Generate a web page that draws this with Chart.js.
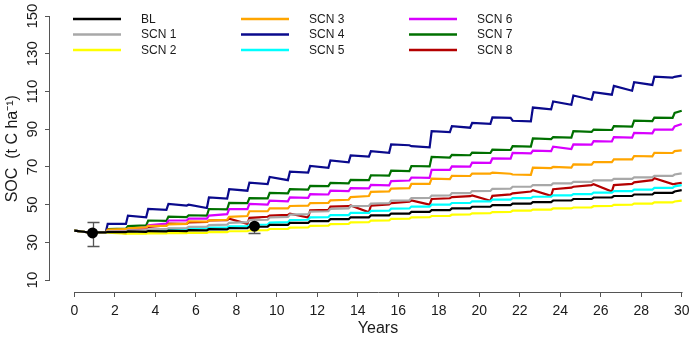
<!DOCTYPE html>
<html><head><meta charset="utf-8">
<script src="https://cdn.jsdelivr.net/npm/chart.js@4.4.1/dist/chart.umd.min.js"></script>
<style>html,body{margin:0;padding:0;background:#fff;overflow:hidden;}#wrap{width:692px;height:338px;position:relative;}</style>
</head><body><div id="wrap"><canvas id="c" width="692" height="338"></canvas></div>
<script>
// ---------- data ----------
const years = [0,0.55,0.65,1.55,1.65,2.55,2.65,3.55,3.65,4.55,4.65,5.55,5.65,6.55,6.65,7.55,7.65,8.55,8.65,9.55,9.65,10.55,10.65,11.55,11.65,12.55,12.65,13.55,13.65,14.55,14.65,15.55,15.65,16.55,16.65,17.55,17.65,18.55,18.65,19.55,19.65,20.55,20.65,21.55,21.65,22.55,22.65,23.55,23.65,24.55,24.65,25.55,25.65,26.55,26.65,27.55,27.65,28.55,28.65,29.55,29.65,30];
const seriesNames = ['BL','SCN 1','SCN 2','SCN 3','SCN 4','SCN 5','SCN 6','SCN 7','SCN 8'];
const seriesColors = ['#000000','#a8a8a8','#ffff00','#ffa500','#0a0a8c','#00ffff','#d800ff','#007000','#b40000'];
const BL   = [36.2, 35.5,35.3, 35.3,35.5, 35.4,35.8, 35.6,36.0, 35.8,36.2, 36.0,36.5, 36.4,37.0, 36.9,37.6, 37.5,38.3, 38.4,39.3, 39.3,40.3, 40.3,41.3, 41.3,42.3, 42.3,43.3, 43.3,44.3, 44.3,45.3, 45.3,46.2, 46.2,47.1, 47.1,48.0, 48.0,48.9, 48.9,49.8, 49.8,50.6, 50.6,51.4, 51.4,52.2, 52.2,53.0, 53.0,53.8, 53.8,54.6, 54.6,55.4, 55.4,56.3, 56.3,57.0, 57.7];
const SCN1 = [36.2, 35.5,35.3, 35.3,35.8, 36.0,36.4, 36.5,36.9, 37.0,37.5, 37.6,38.2, 38.4,39.2, 39.4,40.4, 40.7,41.8, 42.0,43.2, 43.5,44.7, 45.0,46.3, 46.5,47.8, 48.0,49.2, 49.4,50.6, 50.8,52.1, 52.3,53.5, 53.6,54.8, 54.9,56.1, 56.1,57.2, 57.3,58.4, 58.5,59.5, 59.5,60.4, 60.4,61.3, 61.3,62.1, 62.1,62.9, 62.9,63.7, 63.7,64.5, 64.5,65.3, 65.3,66.0, 66.6];
const SCN2 = [36.2, 35.5,35.3, 35.3,35.1, 34.6,34.8, 34.7,34.9, 34.8,35.0, 34.9,35.2, 35.1,35.5, 35.4,35.9, 35.9,36.4, 36.5,37.1, 37.2,37.8, 38.0,38.8, 38.9,39.7, 39.8,40.6, 40.7,41.5, 41.7,42.5, 42.6,43.3, 43.4,44.0, 44.1,44.7, 44.8,45.4, 45.5,46.1, 46.2,46.8, 46.8,47.4, 47.4,48.0, 48.0,48.5, 48.6,49.2, 49.3,49.9, 50.0,50.6, 50.6,51.2, 51.2,51.7, 52.1];
const SCN3 = [36.2, 35.5,35.3, 35.3,36.8, 37.0,37.5, 38.0,38.8, 38.8,39.6, 39.8,41.2, 41.0,41.6, 42.0,43.5, 44.0,46.5, 46.5,48.0, 48.0,49.3, 49.5,50.8, 51.0,52.3, 52.6,54.0, 54.6,56.8, 57.0,58.5, 58.8,61.0, 61.0,63.8, 63.6,65.3, 65.2,66.5, 66.5,67.0, 66.4,66.0, 65.8,69.6, 69.4,70.0, 69.6,71.4, 71.2,72.6, 72.6,74.0, 74.0,75.8, 75.6,77.5, 77.4,78.4, 78.8];
const SCN4 = [36.2, 35.5,35.3, 35.3,39.8, 39.8,44.2, 43.3,47.7, 47.2,50.4, 49.5,50.0, 48.2,53.8, 53.2,58.2, 57.4,61.7, 60.9,64.7, 63.0,67.5, 67.0,70.5, 69.5,73.5, 72.5,76.1, 75.5,78.4, 77.5,82.0, 81.5,81.0, 80.4,89.0, 88.5,91.6, 90.8,93.3, 92.8,96.3, 96.0,94.5, 94.2,101.5, 100.5,104.7, 103.0,107.9, 105.6,109.6, 108.3,113.0, 110.4,114.9, 113.5,117.9, 117.4,117.8, 118.4];
const SCN5 = [36.2, 35.5,35.3, 35.3,35.4, 35.4,35.8, 35.8,36.3, 36.4,37.2, 37.2,37.6, 37.5,37.9, 37.9,38.5, 38.6,39.3, 39.5,40.5, 40.7,41.8, 42.0,43.3, 43.4,44.5, 44.5,45.6, 45.6,46.7, 46.8,47.9, 48.0,49.0, 49.0,50.0, 50.0,50.9, 50.9,51.8, 51.8,52.7, 52.7,53.5, 53.5,54.2, 54.2,54.9, 54.9,55.6, 55.6,56.4, 56.4,57.2, 57.2,58.0, 58.0,58.9, 58.9,59.7, 60.4];
const SCN6 = [36.2, 35.5,35.3, 35.3,35.8, 36.3,37.2, 37.8,39.0, 40.0,41.6, 41.6,42.6, 42.6,44.2, 45.0,47.7, 47.6,50.4, 50.0,52.1, 51.8,53.9, 53.6,55.6, 55.4,57.4, 57.2,58.8, 58.6,60.5, 60.2,62.5, 62.8,64.4, 64.2,68.5, 68.5,70.3, 70.2,72.3, 72.2,74.5, 74.4,77.5, 77.2,78.6, 78.4,80.8, 79.5,82.0, 81.8,83.7, 83.5,85.8, 85.5,88.1, 87.8,89.8, 89.8,91.5, 92.8];
const SCN7 = [36.2, 35.5,35.3, 35.3,37.0, 37.3,38.6, 39.0,41.6, 41.4,43.7, 43.4,44.4, 44.2,47.7, 47.5,51.0, 50.8,53.5, 53.3,56.3, 56.0,58.2, 58.0,60.0, 59.8,61.5, 61.3,63.2, 63.0,65.6, 65.4,68.0, 67.8,70.5, 70.3,75.3, 75.0,76.4, 76.2,77.6, 77.4,79.2, 79.0,81.0, 80.8,85.1, 84.8,85.8, 85.6,89.0, 88.6,89.8, 89.6,91.6, 91.4,94.6, 94.3,96.2, 96.0,98.6, 99.8];
const SCN8 = [36.2, 35.5,35.3, 35.3,35.8, 34.8,36.6, 37.6,38.2, 39.0,40.0, 39.8,40.6, 40.8,41.6, 41.8,42.6, 39.8,43.0, 43.6,44.2, 44.6,45.2, 43.2,47.0, 47.3,49.0, 49.2,49.6, 46.0,49.5, 50.2,50.8, 51.6,52.2, 50.0,53.0, 53.4,54.0, 54.5,54.9, 52.1,54.7, 55.5,56.0, 57.0,57.7, 54.7,58.2, 59.0,59.5, 60.4,60.9, 57.0,60.4, 61.0,61.8, 63.0,64.0, 60.9,61.0, 61.6];
const obsYears = [0.9, 8.9];
const obsMean  = [35.0, 38.6];
const obsLow   = [28.3, 34.9];
const obsHigh  = [41.0, 42.3];
const xTicks = [0,2,4,6,8,10,12,14,16,18,20,22,24,26,28,30];
const yTicks = [10,30,50,70,90,110,130,150];
const xTitle = 'Years';
const yTitle = 'SOC  (t C ha\u207B\u00B9)';

const seriesValues = [BL,SCN1,SCN2,SCN3,SCN4,SCN5,SCN6,SCN7,SCN8];

// ---------- chart ----------
const AXIS = '#555555';
const TXT = '#1a1a1a';

const lineSets = seriesNames.map((name,i)=>({
  type:'line', label:name,
  data: years.map((x,k)=>({x:x, y:seriesValues[i][k]})),
  borderColor: seriesColors[i], backgroundColor: seriesColors[i],
  borderWidth: 2.2, pointRadius: 0, tension: 0, order: 1
}));
const pointSet = {
  type:'scatter', label:'Observed',
  data: obsYears.map((x,i)=>({x:x, y:obsMean[i]})),
  backgroundColor:'#000', borderColor:'#000', pointRadius:5.5, pointBorderWidth:0, showLine:false, order:0
};

const overlay = {
  id:'overlay',
  afterLayout(chart){
    // extend the x scale past the canvas edge like R's 4% axis expansion
    const xs = chart.scales.x;
    xs.right = xs.left + 656;
    xs.width = xs.right - xs.left;
    xs.configure();
  },
  beforeDatasetsDraw(chart){
    const {ctx, scales:{x,y}} = chart;
    ctx.save();
    ctx.strokeStyle = AXIS; ctx.lineWidth = 1.3;
    for(let i=0;i<obsYears.length;i++){
      const px = Math.round(x.getPixelForValue(obsYears[i]))+0.5;
      const lo = Math.round(y.getPixelForValue(obsLow[i]))+0.5;
      const hi = Math.round(y.getPixelForValue(obsHigh[i]))+0.5;
      ctx.beginPath();
      ctx.moveTo(px,lo); ctx.lineTo(px,hi);
      ctx.moveTo(px-6,lo); ctx.lineTo(px+6,lo);
      ctx.moveTo(px-6,hi); ctx.lineTo(px+6,hi);
      ctx.stroke();
    }
    ctx.restore();
  },
  afterDraw(chart){
    const {ctx, scales:{x,y}} = chart;
    ctx.save();
    ctx.strokeStyle = AXIS; ctx.lineWidth = 1;
    ctx.beginPath();
    const yb = Math.round(y.bottom)+0.5;
    ctx.moveTo(Math.round(x.getPixelForValue(xTicks[0]))+0.5, yb);
    ctx.lineTo(Math.round(x.getPixelForValue(xTicks[xTicks.length-1]))+0.5, yb);
    const xl = Math.round(x.left)-0.5;
    ctx.moveTo(xl, Math.round(y.getPixelForValue(yTicks[0]))+0.5);
    ctx.lineTo(xl, Math.round(y.getPixelForValue(yTicks[yTicks.length-1]))+0.5);
    ctx.stroke();
    // legend (3 columns x 3 rows)
    const colX = [73, 241, 409];
    const rowY = [19, 34.5, 50];
    ctx.font = '12px "Liberation Sans", Arial, sans-serif';
    ctx.fillStyle = TXT; ctx.textBaseline = 'middle'; ctx.textAlign = 'left';
    seriesNames.forEach((name,i)=>{
      const c = Math.floor(i/3), r = i%3;
      ctx.strokeStyle = seriesColors[i]; ctx.lineWidth = 2.5;
      ctx.beginPath(); ctx.moveTo(colX[c], rowY[r]); ctx.lineTo(colX[c]+48, rowY[r]); ctx.stroke();
      ctx.fillText(name, colX[c]+68, rowY[r]+0.5);
    });
    ctx.restore();
  }
};

new Chart(document.getElementById('c'), {
  type:'line',
  data:{ datasets:[pointSet, ...lineSets] },
  options:{
    responsive:false, animation:false, devicePixelRatio:1, events:[],
    layout:{ padding:{ top:3.4, right:11, left:0, bottom:0 } },
    plugins:{ legend:{display:false}, tooltip:{enabled:false} },
    scales:{
      x:{
        type:'linear', position:'bottom', min:-1.2, max:31.2,
        afterBuildTicks:(s)=>{ s.ticks = xTicks.map(v=>({value:v})); },
        afterFit:(s)=>{ s.height = 46; s.paddingLeft = 0; s.paddingRight = 0; },
        border:{display:false},
        grid:{ display:true, drawOnChartArea:false, drawTicks:true, tickLength:5, color:AXIS, lineWidth:1 },
        ticks:{ autoSkip:false, maxRotation:0, minRotation:0, padding:6, color:TXT,
                font:{ family:'"Liberation Sans", Arial, sans-serif', size:14 },
                callback:(v)=>String(v) },
        title:{ display:true, text:xTitle, color:TXT, padding:{top:0,bottom:0},
                font:{ family:'"Liberation Sans", Arial, sans-serif', size:16 } }
      },
      y:{
        type:'linear', position:'left', min:3.7, max:155.6,
        afterBuildTicks:(s)=>{ s.ticks = yTicks.map(v=>({value:v})); },
        afterFit:(s)=>{ s.width = 50; s.paddingTop = 0; s.paddingBottom = 0; },
        border:{display:false},
        grid:{ display:true, drawOnChartArea:false, drawTicks:true, tickLength:5, color:AXIS, lineWidth:1 },
        ticks:{ autoSkip:false, minRotation:90, maxRotation:90, crossAlign:'center', padding:0, color:TXT,
                font:{ family:'"Liberation Sans", Arial, sans-serif', size:15 },
                callback:(v)=>String(v) },
        title:{ display:true, text:yTitle, color:TXT, padding:{top:3,bottom:0},
                font:{ family:'"Liberation Sans", Arial, sans-serif', size:16 } }
      }
    }
  },
  plugins:[overlay]
});
</script>
</body></html>
